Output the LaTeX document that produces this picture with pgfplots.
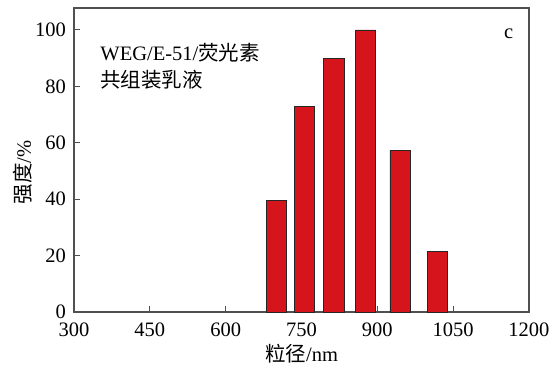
\documentclass[border=0pt]{standalone}
\usepackage{pgfplots}
\pgfplotsset{compat=1.18}
\usepackage{fontspec}
\setmainfont{Liberation Serif}
\newfontfamily\cjk{Noto Sans CJK SC}

\definecolor{barred}{RGB}{214,20,28}
\definecolor{axisgray}{RGB}{80,80,80}

% particle-size distribution: bin centre (nm), relative intensity (%)
\pgfplotstableread{
x     y
701   39.6
756   72.8
814   89.8
877   100
945   57.4
1019  21.4
}\sizedist

\begin{document}
\begin{tikzpicture}
\fontsize{20.5}{24}\selectfont
\begin{axis}[
  name=ax,
  width=455pt, height=304pt,
  scale only axis,
  xmin=300, xmax=1200,
  ymin=0, ymax=107.8,
  xtick={300,450,...,1200},
  ytick={0,20,...,100},
  tick align=inside,
  xtick pos=bottom,
  ytick pos=left,
  major tick length=6pt,
  axis line style={axisgray, line width=1.2pt},
  every tick/.style={axisgray, line width=1pt},
  tick label style={font=\fontsize{20.5}{24}\selectfont},
  /pgf/number format/assume math mode=true,
  /pgf/number format/1000 sep={},
  xticklabel style={anchor=center, yshift=-18pt},
  yticklabel style={anchor=east, xshift=-1pt},
  xlabel={{\cjk 粒径}/nm},
  ylabel={{\cjk 强度}/\%},
  xlabel style={at={(axis description cs:0.5,-0.138)}, anchor=center, font=\fontsize{20.5}{24}\selectfont},
  ylabel style={at={(axis description cs:-0.112,0.46)}, anchor=center, font=\fontsize{20.5}{24}\selectfont},
  clip=false,
]
\addplot[ybar, bar width=40, fill=barred, draw=black!85, line width=0.9pt]
  table[x=x, y=y] {\sizedist};
\node[anchor=west, font=\fontsize{20.5}{24}\selectfont, inner sep=0pt] at (axis cs:352,91.8) {WEG/E-51/{\cjk 荧光素}};
\node[anchor=west, font=\fontsize{20.5}{24}\selectfont, inner sep=0pt] at (axis cs:352,82.2) {\cjk 共组装乳液};
\node[anchor=center, font=\fontsize{20.5}{24}\selectfont, inner sep=0pt] at (axis cs:1160,98.6) {c};
\end{axis}
\pgfresetboundingbox
\path[use as bounding box] ([shift={(-74pt,-58pt)}]ax.south west) rectangle ([shift={(26pt,8pt)}]ax.north east);
\end{tikzpicture}
\end{document}
